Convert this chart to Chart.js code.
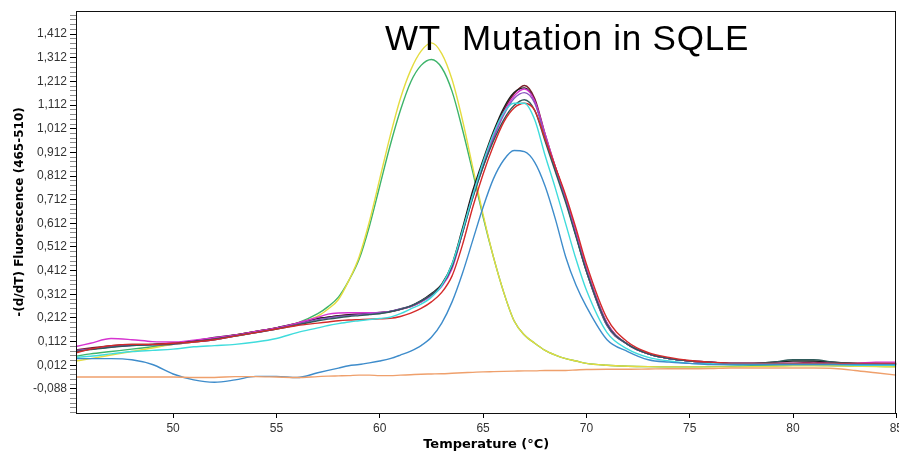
<!DOCTYPE html>
<html><head><meta charset="utf-8">
<script src="https://cdn.jsdelivr.net/npm/chart.js@4.4.1/dist/chart.umd.min.js"></script>
<style>
html,body{margin:0;padding:0;background:#fff;overflow:hidden;}
#wrap{position:relative;width:906px;height:453px;}
</style></head><body>
<div id="wrap"><canvas id="c"></canvas></div>
<script>
// ---- data ----
const temps = [45.3,46,47,48,49,50,51,52,53,54,55,56,57,57.5,58,58.5,59,59.5,60,60.5,61,61.5,62,62.5,63,63.5,64,64.5,65,65.5,66,66.5,67,67.5,68,68.5,69,69.5,70,71,72,73,74,75,76,77,78,79,80,81,82,83,84,85];

const wtYellow = [0.03,0.04,0.055,0.07,0.085,0.10,0.11,0.125,0.14,0.155,0.17,0.19,0.22,0.25,0.29,0.37,0.47,0.62,0.80,0.98,1.14,1.26,1.34,1.375,1.33,1.22,1.05,0.85,0.65,0.47,0.32,0.20,0.14,0.105,0.075,0.055,0.04,0.03,0.02,0.012,0.008,0.006,0.005,0.005,0.005,0.005,0.006,0.008,0.01,0.01,0.01,0.008,0.006,0.005];
const wtGreen = [0.05,0.06,0.07,0.08,0.09,0.10,0.11,0.12,0.135,0.15,0.17,0.19,0.23,0.26,0.30,0.37,0.46,0.60,0.77,0.94,1.09,1.21,1.28,1.305,1.27,1.17,1.01,0.83,0.64,0.47,0.32,0.20,0.14,0.105,0.075,0.055,0.04,0.03,0.02,0.012,0.008,0.006,0.005,0.005,0.006,0.008,0.01,0.01,0.012,0.012,0.01,0.008,0.008,0.006];
const mutMaroon = [0.077,0.085,0.095,0.10,0.10,0.105,0.115,0.125,0.14,0.155,0.17,0.185,0.21,0.215,0.222,0.226,0.228,0.23,0.233,0.238,0.248,0.26,0.28,0.31,0.35,0.43,0.58,0.74,0.87,0.99,1.09,1.16,1.195,1.14,0.99,0.85,0.72,0.57,0.42,0.19,0.10,0.06,0.04,0.03,0.025,0.02,0.02,0.02,0.02,0.025,0.02,0.02,0.02,0.02];
const mutBlack = [0.072,0.08,0.09,0.097,0.10,0.105,0.115,0.13,0.14,0.155,0.17,0.19,0.21,0.215,0.22,0.225,0.228,0.231,0.235,0.24,0.25,0.263,0.285,0.315,0.355,0.44,0.59,0.75,0.88,1.0,1.10,1.165,1.185,1.13,0.98,0.84,0.71,0.56,0.41,0.18,0.10,0.06,0.04,0.03,0.025,0.02,0.02,0.025,0.03,0.03,0.025,0.02,0.02,0.015];
const mutMagenta = [0.091,0.105,0.125,0.12,0.112,0.11,0.118,0.128,0.14,0.155,0.17,0.19,0.215,0.228,0.233,0.234,0.234,0.234,0.235,0.24,0.248,0.26,0.28,0.305,0.345,0.42,0.57,0.73,0.86,0.98,1.08,1.15,1.18,1.13,0.99,0.85,0.72,0.57,0.42,0.19,0.10,0.06,0.04,0.03,0.025,0.02,0.02,0.02,0.02,0.02,0.02,0.02,0.025,0.025];
const mutPurple = [0.075,0.08,0.09,0.095,0.098,0.10,0.11,0.12,0.135,0.15,0.165,0.185,0.205,0.212,0.218,0.222,0.226,0.23,0.234,0.24,0.25,0.262,0.283,0.31,0.35,0.43,0.57,0.72,0.85,0.97,1.07,1.14,1.165,1.12,0.98,0.84,0.71,0.56,0.41,0.18,0.10,0.06,0.04,0.03,0.025,0.02,0.02,0.02,0.02,0.02,0.02,0.018,0.018,0.018];
const mutSlate = [0.07,0.078,0.088,0.095,0.098,0.102,0.112,0.122,0.136,0.15,0.165,0.182,0.2,0.207,0.213,0.218,0.222,0.226,0.23,0.238,0.248,0.262,0.283,0.31,0.35,0.43,0.57,0.72,0.85,0.96,1.05,1.11,1.135,1.09,0.96,0.83,0.70,0.555,0.41,0.185,0.10,0.06,0.04,0.03,0.025,0.02,0.02,0.025,0.035,0.035,0.025,0.02,0.015,0.015];
const mutRed = [0.065,0.08,0.095,0.10,0.10,0.105,0.11,0.12,0.135,0.15,0.165,0.18,0.19,0.195,0.20,0.203,0.205,0.207,0.208,0.21,0.218,0.232,0.252,0.28,0.32,0.39,0.52,0.68,0.82,0.94,1.04,1.10,1.12,1.09,0.97,0.85,0.73,0.59,0.44,0.21,0.11,0.065,0.045,0.032,0.025,0.02,0.02,0.02,0.02,0.02,0.02,0.02,0.02,0.02];
const mutCyan = [0.045,0.05,0.06,0.07,0.075,0.08,0.09,0.095,0.10,0.11,0.125,0.15,0.17,0.18,0.188,0.195,0.20,0.205,0.21,0.215,0.23,0.25,0.27,0.30,0.35,0.44,0.58,0.73,0.87,0.99,1.08,1.12,1.12,1.05,0.90,0.76,0.61,0.46,0.33,0.15,0.08,0.045,0.03,0.02,0.018,0.015,0.015,0.015,0.015,0.015,0.015,0.012,0.012,0.012];
const mutBlue = [0.04,0.04,0.04,0.035,0.015,-0.025,-0.05,-0.06,-0.05,-0.035,-0.035,-0.04,-0.02,-0.01,0.0,0.01,0.015,0.022,0.03,0.04,0.055,0.072,0.095,0.13,0.19,0.28,0.40,0.54,0.68,0.80,0.88,0.92,0.915,0.87,0.77,0.63,0.47,0.35,0.26,0.12,0.07,0.035,0.025,0.02,0.015,0.015,0.015,0.015,0.015,0.015,0.015,0.015,0.015,0.015];
const negOrange = [-0.038,-0.038,-0.038,-0.038,-0.038,-0.038,-0.04,-0.04,-0.036,-0.036,-0.038,-0.04,-0.036,-0.034,-0.033,-0.032,-0.03,-0.03,-0.032,-0.032,-0.03,-0.028,-0.026,-0.025,-0.024,-0.022,-0.02,-0.018,-0.016,-0.015,-0.014,-0.013,-0.012,-0.012,-0.01,-0.01,-0.01,-0.008,-0.006,-0.005,-0.005,-0.004,-0.003,-0.003,-0.002,0.0,0.0,0.0,0.0,0.0,-0.002,-0.01,-0.02,-0.03];

const xTickValues = [50,55,60,65,70,75,80,85];
const yTickValues = [-0.088,0.012,0.112,0.212,0.312,0.412,0.512,0.612,0.712,0.812,0.912,1.012,1.112,1.212,1.312,1.412];
const yTickLabels = ["-0,088","0,012","0,112","0,212","0,312","0,412","0,512","0,612","0,712","0,812","0,912","1,012","1,112","1,212","1,312","1,412"];
const chartTitle = "WT  Mutation in SQLE";
const xTitle = "Temperature (°C)";
const yTitle = "-(d/dT) Fluorescence (465-510)";

// draw order: first = bottom
const series = [
  {name:"Negative", values:negOrange, color:"#EFA06C"},
  {name:"Mutation 8", values:mutBlue, color:"#3E8CCB"},
  {name:"Mutation 7", values:mutCyan, color:"#3FDCDC"},
  {name:"Mutation 6", values:mutRed, color:"#D42A2A"},
  {name:"Mutation 5", values:mutSlate, color:"#2E5A5A"},
  {name:"Mutation 4", values:mutPurple, color:"#8A55C0"},
  {name:"Mutation 3", values:mutMagenta, color:"#D633D0"},
  {name:"Mutation 2", values:mutBlack, color:"#1E1E1E"},
  {name:"Mutation 1", values:mutMaroon, color:"#7A1E2A"},
  {name:"WT 1", values:wtYellow, color:"#E4DC40"},
  {name:"WT 2", values:wtGreen, color:"#3DB46A"}
];

const datasets = series.map(s => ({
  label: s.name,
  data: temps.map((t, i) => ({x: t, y: s.values[i]})),
  borderColor: s.color,
  backgroundColor: s.color,
  borderWidth: 1.4,
  pointRadius: 0,
  fill: false,
  cubicInterpolationMode: 'monotone'
}));

const tickFont = {family: "'Liberation Sans', Arial, sans-serif", size: 12};
const titleFont = {family: "'DejaVu Sans', sans-serif", size: 12, weight: 'bold'};

const framePlugin = {
  id: 'frame',
  afterDraw(chart) {
    const {ctx, chartArea: a} = chart;
    ctx.save();
    ctx.strokeStyle = '#111';
    ctx.lineWidth = 1;
    ctx.strokeRect(Math.round(a.left) + 0.5, Math.round(a.top) + 0.5, Math.round(a.right - a.left) - 1, Math.round(a.bottom - a.top));
    ctx.restore();
  }
};
const overlayTitle = {
  id: 'overlayTitle',
  afterDraw(chart) {
    const {ctx} = chart;
    ctx.save();
    ctx.font = "35px 'Liberation Sans', Arial, sans-serif";
    if ('letterSpacing' in ctx) ctx.letterSpacing = '0.8px';
    ctx.fillStyle = '#000';
    ctx.textAlign = 'left';
    ctx.textBaseline = 'alphabetic';
    ctx.fillText(chartTitle, 385, 50);
    ctx.restore();
  }
};

new Chart(document.getElementById('c'), {
  type: 'line',
  data: {datasets},
  plugins: [framePlugin, overlayTitle],
  options: {
    responsive: true,
    maintainAspectRatio: false,
    animation: false,
    layout: {padding: {top: 11, left: 0, right: 0, bottom: 0}},
    plugins: {legend: {display: false}, tooltip: {enabled: false}, title: {display: false}},
    scales: {
      x: {
        type: 'linear',
        min: 45.3,
        max: 85,
        border: {display: false},
        grid: {drawOnChartArea: false, drawTicks: true, tickLength: 5, color: '#000'},
        ticks: {font: tickFont, color: '#333', padding: 3, maxRotation: 0, autoSkip: false},
        afterBuildTicks: s => { s.ticks = xTickValues.map(v => ({value: v})); },
        afterFit: s => { s.height = 40; },
        title: {display: true, text: xTitle, font: {...titleFont, size: 13}, color: '#000', padding: {top: 0, bottom: 1}}
      },
      y: {
        type: 'linear',
        min: -0.19,
        max: 1.51,
        border: {display: false},
        grid: {
          drawOnChartArea: false, drawTicks: true, tickLength: 6,
          tickColor: c => (c.tick && c.tick.major) ? '#000' : '#8a8a8a'
        },
        ticks: {
          font: tickFont, color: '#333', padding: 3, autoSkip: false,
          callback: function(value) {
            const i = yTickValues.findIndex(v => Math.abs(v - value) < 1e-6);
            return i >= 0 ? yTickLabels[i] : '';
          }
        },
        afterBuildTicks: s => {
          const out = [];
          const base = yTickValues[0] - 0.1;
          for (let k = 0; base + k * 0.02 <= s.max + 1e-9; k++) {
            const v = +(base + k * 0.02).toFixed(3);
            if (v < s.min) continue;
            out.push({value: v, major: yTickValues.some(m => Math.abs(m - v) < 1e-6)});
          }
          s.ticks = out;
        },
        afterFit: s => { s.width = 76; },
        title: {display: true, text: yTitle, font: titleFont, color: '#000', padding: {top: 13, bottom: 0}}
      }
    }
  }
});
</script>
</body></html>
